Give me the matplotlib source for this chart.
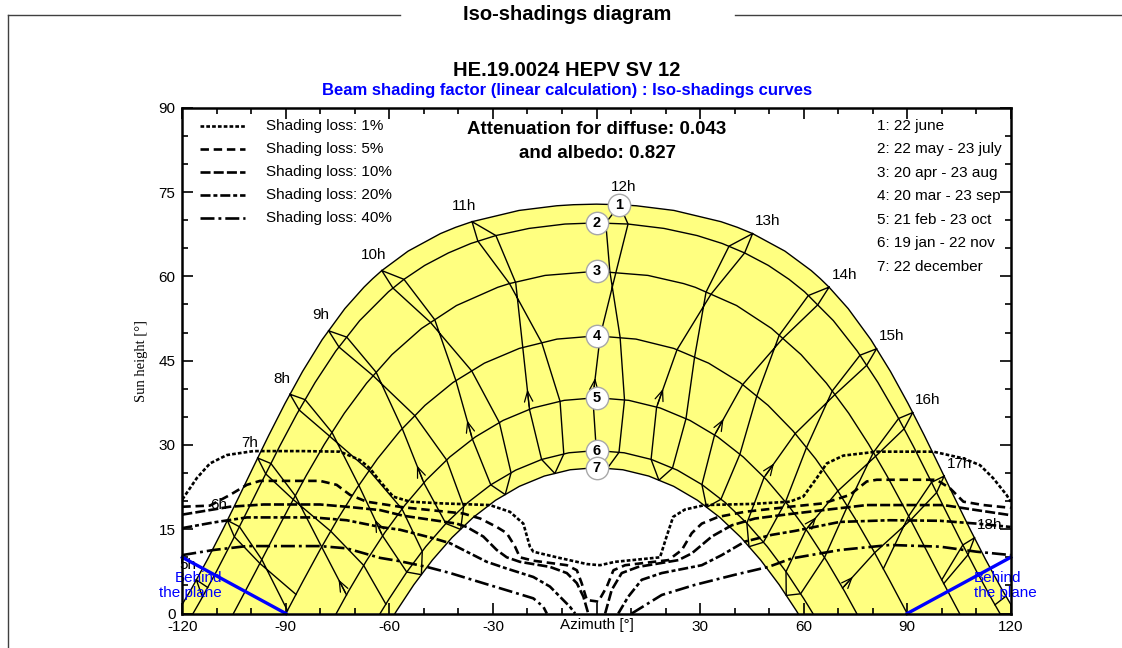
import numpy as np
import matplotlib
matplotlib.use("Agg")
import matplotlib.pyplot as plt
from matplotlib.lines import Line2D
from matplotlib.ticker import MultipleLocator

nan = np.nan

# ---------------------------------------------------------------------
# Sun paths of the 7 reference dates, azimuth (0 = south) / sun height,
# read from noon to sunset. The morning half is the mirror image.
# ---------------------------------------------------------------------
PATH1_AZ = [0, 6.66, 11.54, 22.44, 36.06, 40.84, 45.22, 54.59, 62.21, 64.88, 67.37,
            72.92, 79.50, 85.17, 90.25, 94.96, 99.45, 103.84, 108.22, 112.67, 117.26, 121.6]
PATH1_H = [72.84, 72.74, 72.55, 71.72, 69.72, 68.71, 67.60, 64.48, 61.02, 59.56, 58.07,
           54.25, 48.72, 43.07, 37.38, 31.70, 26.05, 20.47, 15.00, 9.67, 4.51, 0]
PATH2_AZ = [0, 9.13, 19.56, 29.15, 36.42, 42.91, 49.80, 55.79, 60.26, 68.61, 75.54,
            81.52, 86.86, 91.79, 96.46, 101.01, 105.53, 110.10, 114.80, 116.9]
PATH2_H = [69.50, 69.30, 68.52, 67.25, 65.84, 64.16, 61.93, 59.46, 57.26, 52.12, 46.70,
           41.12, 35.46, 29.77, 24.09, 18.46, 12.92, 7.50, 2.24, 0]
PATH3_AZ = [0, 14.89, 25.21, 28.63, 40.58, 50.71, 59.28, 66.62, 73.06, 78.84, 84.16,
            89.17, 94.01, 98.78, 103.58, 105.2]
PATH3_H = [60.90, 60.16, 58.71, 58.04, 54.80, 50.72, 46.06, 40.98, 35.64, 30.12, 24.49,
           18.80, 13.11, 7.45, 1.87, 0]
PATH4_AZ = [0, 11.44, 22.38, 32.48, 41.58, 49.70, 56.95, 63.47, 69.41, 74.91, 80.11, 85.10, 90]
PATH4_H = [49.40, 48.83, 47.17, 44.55, 41.11, 37.04, 32.47, 27.53, 22.31, 16.89, 11.33, 5.69, 0]
PATH5_AZ = [0, 9.35, 18.44, 27.07, 35.11, 42.52, 49.32, 55.57, 61.36, 66.77, 71.88, 75.4]
PATH5_H = [38.40, 37.93, 36.57, 34.36, 31.42, 27.85, 23.76, 19.24, 14.39, 9.27, 3.94, 0]
PATH6_AZ = [0, 8.01, 15.86, 23.42, 30.59, 37.31, 43.60, 49.46, 54.94, 60.09, 62.7]
PATH6_H = [29.00, 28.60, 27.42, 25.51, 22.92, 19.74, 16.04, 11.91, 7.41, 2.61, 0]
PATH7_AZ = [0, 7.63, 15.12, 22.36, 29.25, 35.75, 41.86, 47.56, 52.92, 57.96, 58.4]
PATH7_H = [25.96, 25.58, 24.46, 22.63, 20.15, 17.09, 13.52, 9.51, 5.13, 0.44, 0]

DATE_LABELS = ["1: 22 june", "2: 22 may - 23 july", "3: 20 apr - 23 aug",
               "4: 20 mar - 23 sep", "5: 21 feb - 23 oct", "6: 19 jan - 22 nov",
               "7: 22 december"]

# ---------------------------------------------------------------------
# Sun position at each legal hour 5h..19h, per date (nan = sun is down)
# ---------------------------------------------------------------------
HOURS = [5, 6, 7, 8, 9, 10, 11, 12, 13, 14, 15, 16, 17, 18, 19]
JUN22_AZ = [-115.94, -106.96, -98.16, -88.79, -77.61, -62.21, -36.06, 6.66, 45.22, 67.37, 81.13, 91.60, 100.71, 109.50, 118.63]
JUN22_H = [5.99, 16.57, 27.67, 39.01, 50.31, 61.02, 69.72, 72.74, 67.60, 58.07, 47.10, 35.75, 24.45, 13.47, 3.08]
JUL23_AZ = [-114.17, -104.93, -95.84, -86.15, -74.62, -59.00, -34.39, 2.68, 38.41, 61.37, 76.34, 87.52, 97.07, 106.14, 115.44]
JUL23_H = [2.94, 13.66, 24.85, 36.21, 47.42, 57.92, 66.28, 69.48, 65.37, 56.58, 45.96, 34.70, 23.34, 12.20, 1.56]
AUG23_AZ = [nan, -97.54, -87.87, -77.34, -64.71, -48.08, -25.21, 3.87, 31.74, 52.94, 68.29, 80.22, 90.43, 100.03, nan]
AUG23_H = [nan, 8.92, 20.28, 31.56, 42.30, 51.78, 58.71, 60.85, 57.20, 49.51, 39.59, 28.66, 17.32, 6.00, nan]
SEP23_AZ = [nan, -87.07, -77.01, -65.86, -52.62, -36.15, -15.85, 6.83, 28.41, 46.43, 60.84, 72.69, 83.09, nan, nan]
SEP23_H = [nan, 3.40, 14.65, 25.43, 35.20, 43.16, 48.16, 49.20, 45.61, 38.68, 29.52, 19.07, 7.96, nan, nan]
OCT23_AZ = [nan, nan, -67.45, -56.34, -43.42, -28.14, -10.56, 8.11, 25.92, 41.53, 54.74, 66.05, nan, nan, nan]
OCT23_H = [nan, nan, 8.56, 18.59, 27.31, 33.97, 37.75, 37.99, 34.65, 28.32, 19.84, 9.95, nan, nan, nan]
NOV22_AZ = [nan, nan, -61.03, -50.48, -38.49, -24.76, -9.48, 6.51, 22.01, 36.05, 48.36, 59.13, nan, nan, nan]
NOV22_H = [nan, nan, 1.67, 11.07, 19.05, 25.03, 28.38, 28.67, 25.87, 20.33, 12.68, 3.51, nan, nan, nan]
DEC22_AZ = [nan, nan, nan, -50.74, -39.37, -26.45, -12.07, 3.11, 18.07, 31.90, 44.18, 54.97, nan, nan, nan]
DEC22_H = [nan, nan, nan, 6.91, 14.97, 21.16, 24.92, 25.81, 23.72, 18.90, 11.89, 3.22, nan, nan, nan]
JAN19_AZ = [nan, nan, nan, -54.98, -43.64, -30.63, -15.91, -0.05, 15.81, 30.54, 43.56, 54.90, nan, nan, nan]
JAN19_H = [nan, nan, nan, 7.38, 16.01, 22.90, 27.41, 29.00, 27.43, 22.94, 16.07, 7.44, nan, nan, nan]
FEB21_AZ = [nan, nan, -72.43, -61.97, -50.03, -35.95, -19.42, -1.06, 17.41, 34.20, 48.55, 60.71, 71.30, nan, nan]
FEB21_H = [nan, nan, 3.32, 13.81, 23.25, 31.02, 36.32, 38.39, 36.72, 31.75, 24.22, 14.94, 4.54, nan, nan]
MAR20_AZ = [nan, -89.54, -79.63, -68.86, -56.28, -40.73, -21.36, 1.07, 23.32, 42.34, 57.56, 69.92, 80.57, nan, nan]
MAR20_H = [nan, 0.53, 11.85, 22.80, 32.89, 41.43, 47.32, 49.39, 46.93, 40.73, 32.01, 21.81, 10.81, nan, nan]
APR20_AZ = [nan, -96.97, -87.27, -76.64, -63.83, -46.86, -23.41, 5.66, 33.17, 53.97, 69.07, 80.86, 91.01, 100.60, nan]
APR20_H = [nan, 9.60, 20.96, 32.22, 42.91, 52.27, 58.85, 60.78, 56.81, 48.95, 38.95, 27.98, 16.64, 5.33, nan]
MAY22_AZ = [-112.65, -103.46, -94.33, -84.42, -72.37, -55.79, -29.15, 9.13, 42.91, 64.08, 78.27, 89.11, 98.54, 107.62, nan]
MAY22_H = [4.64, 15.45, 26.69, 38.05, 49.18, 59.46, 67.25, 69.30, 64.16, 54.91, 44.15, 32.86, 21.52, 10.44, nan]

# ---------------------------------------------------------------------
# Iso-shading curves (nan = break at the horizon)
# ---------------------------------------------------------------------
LOSS1_AZ = [-120, -115.8, -112.0, -107.1, -99.4, -85, -74.3, -68.5, -65.6, -62.7, -58.9, -54.0,
            -45, -30.9, -25.1, -21.2, -19.3, -18.3, -11.5, -2.8, 1.0, 5.4, 18.4, 20.3, 22.2, 25.6,
            31.4, 45, 56.0, 59.9, 63.8, 66.7, 71.5, 81.2, 97.6, 106.3, 111.1, 114.9, 118.8, 120]
LOSS1_H = [20.3, 24.1, 26.7, 28.2, 28.9, 28.9, 28.8, 27.3, 25.8, 23.5, 20.8, 19.9,
           19.6, 19.3, 18.1, 16.0, 11.9, 11.0, 10.0, 8.8, 8.6, 9.2, 10.0, 13.7, 17.2, 18.5,
           19.3, 19.5, 19.9, 20.8, 24.1, 26.7, 28.1, 28.8, 28.8, 27.6, 26.4, 24.1, 21.1, 19.9]
LOSS5_AZ = [-120, -112, -106.2, -101.3, -97.5, -80.1, -75.3, -71.4, -66.6, -56, -38.6, -33.7,
            -28.9, -26.0, -23.6, -22.2, -18.3, -8.6, -5.7, -4.3, -2.8, -0.4, 0.5, 3.0, 4.9, 8.3,
            20.8, 24.7, 27.6, 30.5, 35.3, 43.0, 56.0, 65.7, 73.4, 78.3, 81.2, 98.5, 102.4,
            106.3, 112.1, 120]
LOSS5_H = [19.0, 19.2, 21.1, 22.9, 23.6, 23.6, 22.9, 21.1, 19.9, 18.9, 17.8, 16.9,
           15.4, 14.3, 11.9, 10.0, 9.4, 8.6, 7.7, 5.4, 2.4, 2.2, 2.1, 4.8, 7.7, 8.6,
           9.5, 11.3, 14.3, 16.0, 17.2, 18.1, 19.0, 19.6, 21.1, 23.5, 23.8, 23.8, 22.3,
           19.9, 19.3, 18.8]
LOSS10_AZ = [-120, -106.2, -96.5, -80.1, -72.4, -62.7, -56, -40.5, -37.6, -32.8, -28.9, -26.0,
             -22.2, -13.5, -8.6, -5.7, -3.8, -2.4, nan, 2.5, 4.4, 7.3, 12.1, 23.7, 27.6, 33.4,
             39.2, 45.9, 56.0, 65.7, 78.3, 100.5, 110.1, 120]
LOSS10_H = [17.6, 19.0, 19.4, 19.4, 19.0, 18.4, 17.4, 16.0, 15.4, 13.7, 11.3, 10.0,
            9.2, 8.3, 7.2, 5.4, 3.0, 0, nan, 0, 4.2, 7.2, 8.3, 9.5, 10.7, 13.7,
            15.7, 16.9, 17.7, 18.4, 19.3, 19.3, 18.4, 17.5]
LOSS20_AZ = [-120, -111, -101.3, -82.0, -72.4, -62.7, -56.9, -47.3, -42.4, -37.6, -31.8, -26.0,
             -18.3, -13.5, -10.6, -7.7, -6.2, nan, 6.3, 9.2, 13.1, 18.9, 30.5, 36.3, 43.0, 50.8,
             57.5, 70.5, 85.0, 99.5, 110.1, 120]
LOSS20_H = [15.2, 16.2, 17.1, 17.1, 16.6, 15.4, 14.9, 13.4, 12.5, 11.0, 9.2, 8.0,
            6.5, 4.8, 3.0, 1.2, 0, nan, 0, 3.0, 6.0, 7.2, 8.6, 10.4, 12.8, 14.0,
            14.7, 16.3, 16.6, 16.5, 16.0, 15.4]
LOSS40_AZ = [-120, -111, -101.3, -80.1, -72.4, -62.7, -56.9, -49.2, -42.4, -32.8, -23.1, -18.3,
             -15.4, -14.4, nan, 10.2, 18.9, 28.5, 40.1, 49.8, 56.5, 70.5, 85.0, 99.5, 110.1, 120]
LOSS40_H = [10.4, 11.3, 12.0, 12.0, 11.6, 9.9, 9.3, 8.3, 7.2, 5.4, 3.6, 2.7,
            1.2, 0, nan, 0, 3.3, 5.1, 6.9, 8.3, 9.8, 11.3, 12.2, 11.9, 11.0, 10.4]
LOSS_LABELS = ["Shading loss: 1%", "Shading loss: 5%", "Shading loss: 10%",
               "Shading loss: 20%", "Shading loss: 40%"]

# "behind the plane" limits
BEHIND_L_AZ, BEHIND_L_H = [-120, -90], [10, 0]
BEHIND_R_AZ, BEHIND_R_H = [90, 120], [0, 10]

DIFFUSE_ATT = 0.043
ALBEDO_ATT = 0.827

# ---------------------------------------------------------------------
plt.rcParams["font.family"] = ["Liberation Sans", "DejaVu Sans"]

LOSS_STYLES = [(0, (1.4, 0.8)), (0, (3.2, 1.8)), (0, (3.8, 1.2)),
               (0, (3.8, 1.1, 1.5, 1.1)), (0, (5.3, 1.5, 1.1, 1.5))]


def full_path(az, h):
    az = np.asarray(az, dtype=float)
    h = np.asarray(h, dtype=float)
    return np.concatenate([-az[::-1], az[1:]]), np.concatenate([h[::-1], h[1:]])


fig = plt.figure(figsize=(11.22, 6.48), dpi=100)
ax = fig.add_axes([0.1625, 0.0532, 0.7383, 0.7806])
ax.set_xlim(-120, 120)
ax.set_ylim(0, 90)

paths = [(PATH1_AZ, PATH1_H), (PATH2_AZ, PATH2_H), (PATH3_AZ, PATH3_H), (PATH4_AZ, PATH4_H),
         (PATH5_AZ, PATH5_H), (PATH6_AZ, PATH6_H), (PATH7_AZ, PATH7_H)]
full = [full_path(a, h) for a, h in paths]

# yellow band between 22 june and 22 december
a1, h1 = full[0]
a7, h7 = full[-1]
ax.fill(np.concatenate([a1, a7[::-1]]), np.concatenate([h1, h7[::-1]]),
        color="#ffff80", lw=0, zorder=1)

for a, h in full:
    ax.plot(a, h, color="black", lw=1.0, zorder=3)

# hour lines (analemma through the year)
year_az = [JUN22_AZ, JUL23_AZ, AUG23_AZ, SEP23_AZ, OCT23_AZ, NOV22_AZ, DEC22_AZ,
           JAN19_AZ, FEB21_AZ, MAR20_AZ, APR20_AZ, MAY22_AZ, JUN22_AZ]
year_h = [JUN22_H, JUL23_H, AUG23_H, SEP23_H, OCT23_H, NOV22_H, DEC22_H,
          JAN19_H, FEB21_H, MAR20_H, APR20_H, MAY22_H, JUN22_H]
for i, hr in enumerate(HOURS):
    xs = [d[i] for d in year_az]
    ys = [d[i] for d in year_h]
    ax.plot(xs, ys, color="black", lw=1.0, zorder=3)
    # direction arrow on the feb -> mar branch
    fa, fh, ma, mh = FEB21_AZ[i], FEB21_H[i], MAR20_AZ[i], MAR20_H[i]
    if np.isfinite(fa) and np.isfinite(ma):
        ax.annotate("", xy=(fa + 0.32 * (ma - fa), fh + 0.32 * (mh - fh)),
                    xytext=(fa + 0.05 * (ma - fa), fh + 0.05 * (mh - fh)),
                    arrowprops=dict(arrowstyle="->,head_length=0.75,head_width=0.3",
                                    lw=0.9, color="black", shrinkA=0, shrinkB=0),
                    zorder=3)
    # hour label above the 22 june point
    if hr < 12:
        off = (-6, 11)
    elif hr == 12:
        off = (3, 13)
    else:
        off = (11, 9)
    if hr != 19:
        ax.annotate(f"{hr}h", (JUN22_AZ[i], JUN22_H[i]), xytext=off,
                    textcoords="offset points", ha="center", va="center",
                    fontsize=11, zorder=4)

# iso-shading curves
losses = [(LOSS1_AZ, LOSS1_H), (LOSS5_AZ, LOSS5_H), (LOSS10_AZ, LOSS10_H),
          (LOSS20_AZ, LOSS20_H), (LOSS40_AZ, LOSS40_H)]
for (a, h), ls in zip(losses, LOSS_STYLES):
    ax.plot(a, h, color="black", lw=1.9, ls=ls, zorder=5)

# behind the plane
ax.plot(BEHIND_L_AZ, BEHIND_L_H, color="#0000ff", lw=2.4, zorder=6, clip_on=False)
ax.plot(BEHIND_R_AZ, BEHIND_R_H, color="#0000ff", lw=2.4, zorder=6, clip_on=False)
ax.text(-108.5, 5.0, "Behind\nthe plane", color="#0000ff", fontsize=11,
        ha="right", va="center", multialignment="right", linespacing=1.05, zorder=7)
ax.text(109.4, 5.0, "Behind\nthe plane", color="#0000ff", fontsize=11,
        ha="left", va="center", multialignment="left", linespacing=1.05, zorder=7)

# numbered circles on the date curves
circ_az = [JUN22_AZ[7]] + [0] * 6
circ_h = [JUN22_H[7]] + [p[1][0] for p in paths[1:]]
ax.scatter(circ_az, circ_h, s=260, facecolor="white", edgecolor="#a8a8a8", lw=1.0, zorder=8)
for k, (x, y) in enumerate(zip(circ_az, circ_h)):
    ax.text(x, y, str(k + 1), ha="center", va="center", fontsize=10.5,
            fontweight="bold", zorder=9)

# legends
for j, (lbl, ls) in enumerate(zip(LOSS_LABELS, LOSS_STYLES)):
    y = 0.9638 - j * 0.0455
    ax.plot([0.021, 0.0757], [y, y], transform=ax.transAxes, color="black",
            lw=1.9, ls=ls, zorder=10)
    ax.text(0.101, y, lbl, transform=ax.transAxes, va="center", fontsize=11, zorder=10)
for j, lbl in enumerate(DATE_LABELS):
    ax.text(0.8386, 0.9638 - j * 0.0463, lbl, transform=ax.transAxes,
            va="center", fontsize=11, zorder=10)

ax.text(0.5006, 0.956, f"Attenuation for diffuse: {DIFFUSE_ATT:.3f}", transform=ax.transAxes,
        ha="center", va="center", fontsize=13.5, fontweight="bold", zorder=10)
ax.text(0.5006, 0.910, f"and albedo: {ALBEDO_ATT:.3f}", transform=ax.transAxes,
        ha="center", va="center", fontsize=13.5, fontweight="bold", zorder=10)

# axes
ax.xaxis.set_major_locator(MultipleLocator(30))
ax.xaxis.set_minor_locator(MultipleLocator(10))
ax.yaxis.set_major_locator(MultipleLocator(15))
ax.yaxis.set_minor_locator(MultipleLocator(5))
ax.set_xticks(range(-120, 121, 30))
ax.set_xticklabels(["" if v == 0 else str(v) for v in range(-120, 121, 30)])
ax.tick_params(which="both", direction="in", top=True, right=True, width=1.2,
               labelsize=11, colors="black")
ax.tick_params(which="major", length=8, pad=5)
ax.tick_params(which="minor", length=4.5)
for s in ax.spines.values():
    s.set_linewidth(1.8)
    s.set_zorder(11)
ax.set_xlabel("Azimuth [°]", fontsize=11)
ax.xaxis.set_label_coords(0.5, -0.008)
ax.set_ylabel("Sun height [°]", fontsize=10.5, family="Liberation Serif")
ax.yaxis.set_label_coords(-0.042, 0.5)

# group box and titles
top = 1 - 15 / 648
fig.add_artist(Line2D([0.00713, 0.3565], [top, top], transform=fig.transFigure, color="#404040", lw=1.0))
fig.add_artist(Line2D([0.655, 1.0], [top, top], transform=fig.transFigure, color="#404040", lw=1.0))
fig.add_artist(Line2D([0.00713, 0.00713], [0, top], transform=fig.transFigure, color="#404040", lw=1.0))
fig.text(0.5053, top, "Iso-shadings diagram", ha="center", va="center",
         fontsize=14.5, fontweight="bold")
fig.text(0.5053, 1 - 70 / 648, "HE.19.0024 HEPV SV 12", ha="center", va="center",
         fontsize=14.5, fontweight="bold")
fig.text(0.5053, 1 - 91 / 648, "Beam shading factor (linear calculation) : Iso-shadings curves",
         ha="center", va="center", fontsize=12, fontweight="bold", color="#0000ff")

fig.savefig("out.png", dpi=100)
